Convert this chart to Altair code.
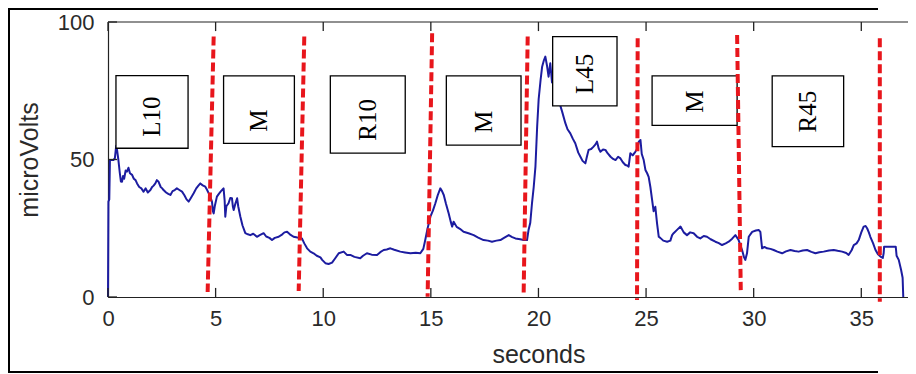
import altair as alt
import pandas as pd

# ---- trace (seconds, microVolts) ----
t = [0.00, 0.02, 0.06, 0.09, 0.25, 0.32, 0.38, 0.42, 0.48, 0.55, 0.60, 0.65, 0.70, 0.75, 0.82, 0.88,
     0.95, 1.02, 1.12, 1.20, 1.28, 1.35, 1.45, 1.55, 1.65, 1.75, 1.85, 1.97, 2.05, 2.12, 2.20, 2.27,
     2.35, 2.45, 2.52, 2.58, 2.70, 2.80, 2.90, 3.00, 3.10, 3.20, 3.30, 3.44, 3.55, 3.65, 3.75, 3.85,
     3.98, 4.10, 4.20, 4.29, 4.40, 4.52, 4.60, 4.68, 4.75, 4.83, 4.88, 4.91, 4.96, 5.06, 5.15, 5.25,
     5.30, 5.37, 5.42, 5.45, 5.50, 5.60, 5.68, 5.76, 5.80, 5.84, 5.92, 6.00, 6.05, 6.15, 6.25, 6.38,
     6.50, 6.61, 6.75, 6.92, 7.05, 7.23, 7.35, 7.50, 7.62, 7.75, 7.93, 8.10, 8.20, 8.32, 8.45, 8.62,
     8.80, 9.01, 9.12, 9.25, 9.40, 9.55, 9.70, 9.87, 9.95, 10.10, 10.25, 10.41, 10.55, 10.72, 10.95, 11.10,
     11.26, 11.45, 11.72, 11.85, 12.03, 12.25, 12.50, 12.65, 12.81, 12.95, 13.12, 13.30, 13.58, 13.80, 14.05, 14.30,
     14.51, 14.65, 14.74, 14.85, 14.98, 15.10, 15.21, 15.32, 15.44, 15.52, 15.60, 15.70, 15.83, 15.92, 15.99, 16.06,
     16.20, 16.35, 16.52, 16.75, 16.99, 17.20, 17.45, 17.65, 17.84, 18.05, 18.23, 18.40, 18.62, 18.78, 18.93, 19.15,
     19.31, 19.47, 19.54, 19.62, 19.70, 19.78, 19.86, 19.94, 20.01, 20.10, 20.17, 20.25, 20.32, 20.40, 20.47, 20.55,
     20.63, 20.70, 20.80, 20.90, 21.00, 21.10, 21.25, 21.35, 21.48, 21.60, 21.71, 21.85, 21.95, 22.05, 22.18, 22.25,
     22.33, 22.45, 22.56, 22.65, 22.72, 22.80, 22.88, 23.00, 23.11, 23.22, 23.35, 23.47, 23.58, 23.70, 23.81, 23.92,
     24.04, 24.12, 24.19, 24.27, 24.38, 24.50, 24.60, 24.66, 24.74, 24.80, 24.89, 24.97, 25.05, 25.12, 25.20, 25.28,
     25.35, 25.43, 25.51, 25.59, 25.66, 25.80, 25.98, 26.13, 26.21, 26.28, 26.45, 26.60, 26.75, 26.90, 27.05, 27.21,
     27.37, 27.52, 27.68, 27.83, 28.00, 28.22, 28.38, 28.53, 28.70, 28.84, 29.00, 29.15, 29.30, 29.46, 29.55, 29.61,
     29.69, 29.77, 29.93, 30.10, 30.23, 30.31, 30.39, 30.50, 30.62, 30.78, 30.93, 31.10, 31.32, 31.50, 31.71, 31.90,
     32.09, 32.28, 32.48, 32.68, 32.87, 33.05, 33.25, 33.50, 33.72, 33.90, 34.11, 34.30, 34.41, 34.55, 34.65, 34.78,
     34.88, 35.00, 35.11, 35.20, 35.27, 35.35, 35.42, 35.55, 35.66, 35.78, 35.89, 36.00, 36.04, 36.06, 36.30, 36.60,
     36.64, 36.74, 36.85, 36.92, 36.95]
v = [0.0, 34.7, 35.5, 49.8, 49.8, 50.5, 55.0, 53.5, 50.0, 45.0, 42.0, 41.9, 44.0, 43.0, 46.0, 45.6,
     47.0, 45.0, 44.4, 43.0, 42.5, 41.3, 40.0, 39.5, 38.3, 39.5, 38.0, 38.9, 40.0, 40.5, 41.3, 42.5,
     41.9, 40.0, 39.5, 38.9, 38.0, 37.5, 37.1, 38.5, 38.9, 39.5, 39.0, 38.3, 37.0, 35.5, 34.7, 36.0,
     37.7, 39.5, 40.5, 41.3, 40.6, 40.1, 39.0, 37.7, 36.5, 34.7, 31.0, 30.4, 33.0, 36.5, 37.5, 38.5,
     38.9, 39.5, 35.0, 29.2, 33.0, 34.1, 36.0, 35.9, 33.0, 31.6, 34.0, 35.9, 33.0, 29.2, 26.0, 23.2,
     22.8, 22.5, 23.0, 21.9, 22.5, 23.2, 22.0, 21.5, 20.7, 21.5, 21.9, 22.8, 23.5, 23.7, 22.8, 21.9,
     21.6, 21.3, 19.5, 17.7, 16.5, 15.9, 15.0, 14.4, 13.5, 12.3, 12.0, 12.5, 14.0, 15.9, 16.5, 15.3,
     15.3, 14.6, 14.1, 15.0, 15.9, 15.4, 15.3, 16.3, 17.1, 17.3, 17.7, 17.2, 16.5, 16.2, 15.9, 16.1,
     15.9, 17.5, 20.7, 25.0, 29.2, 31.5, 34.1, 37.0, 39.5, 38.5, 37.1, 34.0, 30.4, 27.5, 25.6, 27.4,
     25.5, 24.8, 23.7, 23.2, 22.5, 21.6, 20.7, 20.5, 20.1, 20.5, 20.7, 21.5, 22.5, 21.8, 21.3, 21.0,
     20.7, 20.7, 24.4, 27.0, 34.1, 40.0, 47.4, 62.0, 72.0, 79.0, 83.7, 86.0, 87.4, 84.0, 80.1, 85.0,
     78.0, 80.0, 76.0, 73.0, 70.0, 67.4, 63.2, 61.0, 59.5, 57.5, 55.9, 52.5, 51.0, 49.5, 48.6, 51.0,
     53.5, 53.8, 54.7, 55.5, 56.5, 54.0, 52.8, 53.6, 53.5, 52.2, 51.0, 50.2, 49.8, 51.0, 50.4, 49.0,
     48.0, 47.8, 47.4, 52.3, 51.5, 52.8, 54.0, 56.5, 57.1, 52.0, 49.8, 46.2, 45.0, 43.7, 40.0, 35.3,
     31.2, 32.8, 26.8, 21.9, 21.5, 20.5, 20.1, 20.5, 22.5, 23.2, 24.5, 25.6, 23.5, 22.5, 23.5, 23.2,
     21.9, 21.3, 22.2, 21.9, 21.0, 20.1, 19.6, 18.9, 19.5, 20.1, 21.2, 22.5, 20.7, 17.1, 14.5, 13.5,
     15.9, 21.9, 23.7, 24.2, 24.4, 23.7, 17.7, 18.2, 17.7, 17.5, 17.1, 16.5, 15.9, 16.6, 17.1, 16.7,
     16.5, 16.9, 17.1, 16.4, 15.9, 16.3, 16.5, 16.9, 17.1, 16.8, 16.5, 16.0, 15.3, 17.0, 18.9, 19.5,
     20.7, 23.5, 25.6, 25.8, 25.0, 23.5, 21.9, 19.5, 17.1, 15.5, 14.7, 14.2, 16.0, 18.3, 18.3, 18.3,
     15.0, 13.5, 9.8, 7.0, 0.0]

# ---- segment boundaries (red dashed lines) ----
cut_top_t = [4.91, 9.12, 15.06, 19.50, 24.61, 29.23, 35.86]
cut_bot_t = [4.63, 8.86, 14.85, 19.31, 24.58, 29.40, 35.86]
cut_top_v = [94.7, 94.7, 95.9, 94.7, 94.1, 95.3, 94.1]
cut_bot_v = [1.8, 2.2, 0.1, 0.4, -1.1, 2.5, -1.7]

# ---- annotation boxes ----
box_label = ["L10", "M", "R10", "M", "L45", "M", "R45"]
box_t0 = [0.37, 5.37, 10.33, 15.72, 20.66, 25.28, 30.86]
box_t1 = [3.72, 8.66, 13.81, 19.19, 23.65, 29.23, 34.18]
box_v0 = [54.1, 55.9, 52.3, 55.2, 69.5, 62.4, 54.7]
box_v1 = [80.5, 80.4, 80.4, 80.4, 94.7, 80.4, 80.4]
label_v = [65.6, 64.1, 64.4, 63.7, 81.1, 71.0, 67.4]

# ---- axes ----
x_ticks = [0, 5, 10, 15, 20, 25, 30, 35]
y_ticks = [0, 50, 100]
x_max = 37.17   # visible part of the 0-40 axis (figure is cropped on the right)

W, H = 800, 275
PX_PER_S = W / x_max
FONT = "Liberation Sans"
TXT = "#2a2a2a"

xs = alt.Scale(domain=[0, x_max], nice=False, zero=False)
ys = alt.Scale(domain=[0, 100], nice=False, zero=False)

x_axis = alt.Axis(values=x_ticks, title="seconds", grid=False, ticks=False, tickSize=0,
                  labelFont=FONT, labelFontSize=22, labelColor=TXT, labelPadding=11,
                  labelFlush=False, labelOverlap=False, domainColor="#222", domainWidth=1.2,
                  titleFont=FONT, titleFontSize=25, titleFontWeight="normal", titleColor=TXT,
                  titleX=20 * PX_PER_S, titleY=65, titleBaseline="alphabetic", titleAlign="center")
y_axis = alt.Axis(values=y_ticks, title="microVolts", grid=False, ticks=False, tickSize=0,
                  labelFont=FONT, labelFontSize=22, labelColor=TXT, labelPadding=14,
                  labelOverlap=False, domainColor="#222", domainWidth=1.2,
                  titleFont=FONT, titleFontSize=25, titleFontWeight="normal", titleColor=TXT,
                  titleAngle=270, titleX=-71, titleY=137.5, titleBaseline="alphabetic",
                  titleAlign="center")

trace_df = pd.DataFrame({"t": t, "v": v})
cut_df = pd.DataFrame({"t0": cut_top_t, "t1": cut_bot_t, "v0": cut_top_v, "v1": cut_bot_v})
box_df = pd.DataFrame({"label": box_label, "t0": box_t0, "t1": box_t1, "v0": box_v0,
                       "v1": box_v1, "tc": [(a + b) / 2 for a, b in zip(box_t0, box_t1)],
                       "vc": label_v})

# inward ticks (MATLAB style) built from the tick lists
tick_len_v = 3.3
tick_len_t = 0.42
xt_df = pd.DataFrame({
    "t": x_ticks + x_ticks,
    "ya": [0.0] * len(x_ticks) + [100.0] * len(x_ticks),
    "yb": [tick_len_v] * len(x_ticks) + [100.0 - tick_len_v] * len(x_ticks),
})
yt_df = pd.DataFrame({"v": y_ticks, "xa": [0.0] * len(y_ticks), "xb": [tick_len_t] * len(y_ticks)})
one = pd.DataFrame({"a": [0]})

trace = alt.Chart(trace_df).mark_line(color="#1c1ca0", strokeWidth=2, strokeJoin="round").encode(
    x=alt.X("t:Q", scale=xs, axis=x_axis),
    y=alt.Y("v:Q", scale=ys, axis=y_axis),
    order="t:Q",
)

x_tick_marks = alt.Chart(xt_df).mark_rule(color="#222", strokeWidth=1.3).encode(
    x=alt.X("t:Q", scale=xs), y=alt.Y("ya:Q", scale=ys), y2="yb:Q")
y_tick_marks = alt.Chart(yt_df).mark_rule(color="#222", strokeWidth=1.3).encode(
    x=alt.X("xa:Q", scale=xs), x2="xb:Q", y=alt.Y("v:Q", scale=ys))

# top edge of the axes box
top_edge = alt.Chart(one).mark_rule(color="#222", strokeWidth=1.2).encode(
    x=alt.value(0), x2=alt.value(W), y=alt.value(0))

# outer figure frame (left, top, bottom; the right side is cropped away)
frame_left = alt.Chart(one).mark_rule(color="#000", strokeWidth=2).encode(
    x=alt.value(-99), y=alt.value(-14), y2=alt.value(351))
frame_top = alt.Chart(one).mark_rule(color="#000", strokeWidth=2).encode(
    x=alt.value(-100), x2=alt.value(W - 30), y=alt.value(-13))
frame_bottom = alt.Chart(one).mark_rule(color="#000", strokeWidth=2).encode(
    x=alt.value(-100), x2=alt.value(W - 30), y=alt.value(350))

boxes = alt.Chart(box_df).mark_rect(fill="white", stroke="black", strokeWidth=1.3).encode(
    x=alt.X("t0:Q", scale=xs), x2="t1:Q",
    y=alt.Y("v0:Q", scale=ys), y2="v1:Q")
box_text = alt.Chart(box_df).mark_text(font="Liberation Serif", fontSize=25, angle=270,
                                       align="center", baseline="middle", color="black").encode(
    x=alt.X("tc:Q", scale=xs), y=alt.Y("vc:Q", scale=ys), text="label:N")

cuts = alt.Chart(cut_df).mark_rule(color="#e8161c", strokeWidth=4, strokeDash=[9, 4]).encode(
    x=alt.X("t0:Q", scale=xs), x2="t1:Q",
    y=alt.Y("v0:Q", scale=ys), y2="v1:Q")

chart = alt.layer(
    trace, x_tick_marks, y_tick_marks, top_edge,
    boxes, box_text, cuts,
    frame_left, frame_top, frame_bottom,
).properties(
    width=W, height=H,
    autosize=alt.AutoSizeParams(type="none"),
    padding={"left": 100, "top": 14, "right": 0, "bottom": 77},
    background="white",
).configure_view(stroke=None)

chart.save("out.html", embed_options={"renderer": "svg", "actions": False})
